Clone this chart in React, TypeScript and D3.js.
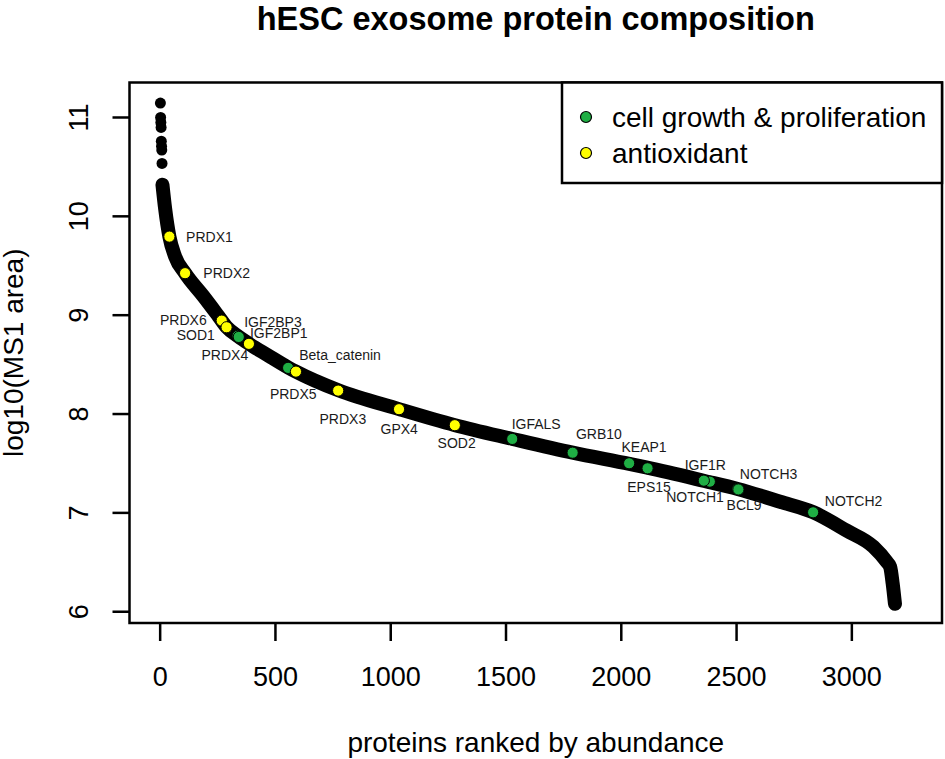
import { useEffect, useRef } from "react";
import * as d3 from "d3";

const width = 945;
const height = 759;
const plot = { left: 129.5, right: 942, top: 82.5, bottom: 623 };
const font = "'Liberation Sans', Arial, Helvetica, sans-serif";

// ranked abundance curve
const curveRanks = [10, 22, 40, 65, 108, 188, 253, 289, 340, 386, 463, 556, 588, 773, 1036, 1279, 1528, 1789, 2035, 2113, 2361, 2505, 2689, 2833, 2978, 3093, 3151, 3166, 3177, 3187];
const curveValues = [10.32, 10.07, 9.795, 9.593, 9.425, 9.19, 8.99, 8.878, 8.783, 8.71, 8.6, 8.47, 8.43, 8.24, 8.05, 7.887, 7.748, 7.609, 7.495, 7.457, 7.323, 7.242, 7.113, 7.006, 6.82, 6.658, 6.506, 6.455, 6.287, 6.08];

// the few most abundant proteins stand apart as single dots
const topRanks = [1, 2, 3, 4, 5, 6, 7, 8];
const topValues = [11.146, 11.0, 10.95, 10.9, 10.76, 10.71, 10.67, 10.535];

// highlighted proteins
const proteinNames = ["IGF2BP3", "IGF2BP1", "Beta_catenin", "IGFALS", "GRB10", "KEAP1", "EPS15", "NOTCH1", "IGF1R", "NOTCH3", "BCL9", "NOTCH2", "PRDX1", "PRDX2", "PRDX6", "SOD1", "PRDX4", "PRDX5", "PRDX3", "GPX4", "SOD2"];
const proteinRanks = [336, 341, 555, 1527, 1789, 2034, 2114, 2384, 2358, 2504, 2508, 2832, 40, 108, 267, 288, 385, 589, 772, 1036, 1278];
const proteinValues = [8.79, 8.78, 8.467, 7.748, 7.609, 7.502, 7.451, 7.316, 7.326, 7.242, 7.237, 7.006, 9.795, 9.425, 8.945, 8.878, 8.71, 8.429, 8.237, 8.049, 7.887];
const proteinGroups = ["growth", "growth", "growth", "growth", "growth", "growth", "growth", "growth", "growth", "growth", "growth", "growth", "antiox", "antiox", "antiox", "antiox", "antiox", "antiox", "antiox", "antiox", "antiox"];

const groupKeys = ["growth", "antiox"];
const legendLabels = ["cell growth & proliferation", "antioxidant"];
const groupColors = ["#1fae44", "#ffff00"];

const xTicks = [0, 500, 1000, 1500, 2000, 2500, 3000];
const yTicks = [6, 7, 8, 9, 10, 11];

// where each gene label sits relative to its point
const labelPlacement: Record<string, [string, number, number]> = {
  PRDX1: ["start", 16.7, 5.3],
  PRDX2: ["start", 18.3, 5],
  PRDX6: ["end", -15, 4.3],
  SOD1: ["end", -11.7, 12.7],
  IGF2BP3: ["start", 6.5, -9.3],
  IGF2BP1: ["start", 11.2, 1.3],
  PRDX4: ["end", -0.7, 16],
  Beta_catenin: ["start", 11, -8],
  PRDX5: ["middle", -2.7, 27.6],
  PRDX3: ["middle", 4.7, 33.3],
  GPX4: ["middle", 0.2, 24.7],
  SOD2: ["middle", 1.8, 23],
  IGFALS: ["start", -0.6, -10],
  GRB10: ["start", 3.3, -13.7],
  KEAP1: ["start", -7.6, -11],
  EPS15: ["middle", 1.5, 23.4],
  NOTCH1: ["end", 14, 20],
  IGF1R: ["middle", 1.5, -10.7],
  NOTCH3: ["start", 2.3, -9.7],
  BCL9: ["middle", 5.7, 20.5],
  NOTCH2: ["start", 11.7, -6.6],
};

const App = () => {
  const ref = useRef<SVGSVGElement>(null);

  useEffect(() => {
    const svg = d3.select(ref.current);
    svg.selectAll("*").remove();

    const x = d3.scaleLinear().domain([-133, 3391]).range([plot.left, plot.right]);
    const y = d3.scaleLinear().domain([5.886, 11.354]).range([plot.bottom, plot.top]);
    const color = d3.scaleOrdinal<string>().domain(groupKeys).range(groupColors);

    svg.append("rect").attr("width", width).attr("height", height).attr("fill", "white");

    // title
    svg
      .append("text")
      .attr("x", (plot.left + plot.right) / 2)
      .attr("y", 30)
      .attr("text-anchor", "middle")
      .attr("font-family", font)
      .attr("font-weight", "bold")
      .attr("font-size", 32.5)
      .text("hESC exosome protein composition");

    // black band of all ranked proteins
    const line = d3
      .line<number>()
      .x((_, i) => x(curveRanks[i]))
      .y((d) => y(d))
      .curve(d3.curveMonotoneX);

    svg
      .append("path")
      .attr("d", line(curveValues))
      .attr("fill", "none")
      .attr("stroke", "black")
      .attr("stroke-width", 14)
      .attr("stroke-linecap", "round")
      .attr("stroke-linejoin", "round");

    svg
      .append("g")
      .selectAll("circle")
      .data(topValues)
      .join("circle")
      .attr("cx", (_, i) => x(topRanks[i]))
      .attr("cy", (d) => y(d))
      .attr("r", 5.5)
      .attr("fill", "black");

    // highlighted proteins (green first, yellow on top)
    const proteins = proteinNames.map((name, i) => ({
      name,
      rank: proteinRanks[i],
      value: proteinValues[i],
      group: proteinGroups[i],
    }));

    svg
      .append("g")
      .selectAll("circle")
      .data(proteins)
      .join("circle")
      .attr("cx", (d) => x(d.rank))
      .attr("cy", (d) => y(d.value))
      .attr("r", 5.6)
      .attr("fill", (d) => color(d.group))
      .attr("stroke", "black")
      .attr("stroke-width", 1);

    svg
      .append("g")
      .attr("font-family", font)
      .attr("font-size", 14)
      .attr("fill", "#1a1a1a")
      .selectAll("text")
      .data(proteins)
      .join("text")
      .attr("text-anchor", (d) => labelPlacement[d.name][0])
      .attr("x", (d) => x(d.rank) + labelPlacement[d.name][1])
      .attr("y", (d) => y(d.value) + labelPlacement[d.name][2])
      .text((d) => d.name);

    // box
    svg
      .append("rect")
      .attr("x", plot.left)
      .attr("y", plot.top)
      .attr("width", plot.right - plot.left)
      .attr("height", plot.bottom - plot.top)
      .attr("fill", "none")
      .attr("stroke", "black")
      .attr("stroke-width", 2.5);

    // x axis
    const xAxis = svg.append("g").attr("font-family", font).attr("font-size", 27);
    xAxis
      .selectAll("line")
      .data(xTicks)
      .join("line")
      .attr("x1", (d) => x(d))
      .attr("x2", (d) => x(d))
      .attr("y1", plot.bottom)
      .attr("y2", plot.bottom + 18)
      .attr("stroke", "black")
      .attr("stroke-width", 2.5);
    xAxis
      .selectAll("text")
      .data(xTicks)
      .join("text")
      .attr("x", (d) => x(d))
      .attr("y", 686)
      .attr("text-anchor", "middle")
      .text((d) => d);

    // y axis
    const yAxis = svg.append("g").attr("font-family", font).attr("font-size", 27);
    yAxis
      .selectAll("line")
      .data(yTicks)
      .join("line")
      .attr("x1", plot.left)
      .attr("x2", plot.left - 17)
      .attr("y1", (d) => y(d))
      .attr("y2", (d) => y(d))
      .attr("stroke", "black")
      .attr("stroke-width", 2.5);
    yAxis
      .selectAll("text")
      .data(yTicks)
      .join("text")
      .attr("transform", (d) => `translate(88, ${y(d)}) rotate(-90)`)
      .attr("text-anchor", "middle")
      .text((d) => d);

    // axis titles
    svg
      .append("text")
      .attr("x", (plot.left + plot.right) / 2)
      .attr("y", 752)
      .attr("text-anchor", "middle")
      .attr("font-family", font)
      .attr("font-size", 28)
      .text("proteins ranked by abundance");

    svg
      .append("text")
      .attr("transform", `translate(23, ${(plot.top + plot.bottom) / 2}) rotate(-90)`)
      .attr("text-anchor", "middle")
      .attr("font-family", font)
      .attr("font-size", 28)
      .text("log10(MS1 area)");

    // legend
    const legend = svg.append("g").attr("font-family", font).attr("font-size", 28);
    legend
      .append("rect")
      .attr("x", 562)
      .attr("y", plot.top)
      .attr("width", plot.right - 562)
      .attr("height", 100.5)
      .attr("fill", "white")
      .attr("stroke", "black")
      .attr("stroke-width", 2.5);
    const items = legend
      .selectAll("g.item")
      .data(groupKeys)
      .join("g")
      .attr("class", "item")
      .attr("transform", (_, i) => `translate(586, ${117 + i * 36})`);
    items
      .append("circle")
      .attr("r", 5.5)
      .attr("fill", (d) => color(d))
      .attr("stroke", "black")
      .attr("stroke-width", 1.2);
    items
      .append("text")
      .attr("x", 26)
      .attr("y", 10)
      .text((_, i) => legendLabels[i]);
  }, []);

  return (
    <svg
      ref={ref}
      width={width}
      height={height}
      style={{ position: "absolute", left: 0, top: 0, display: "block" }}
    />
  );
};

export default App;
